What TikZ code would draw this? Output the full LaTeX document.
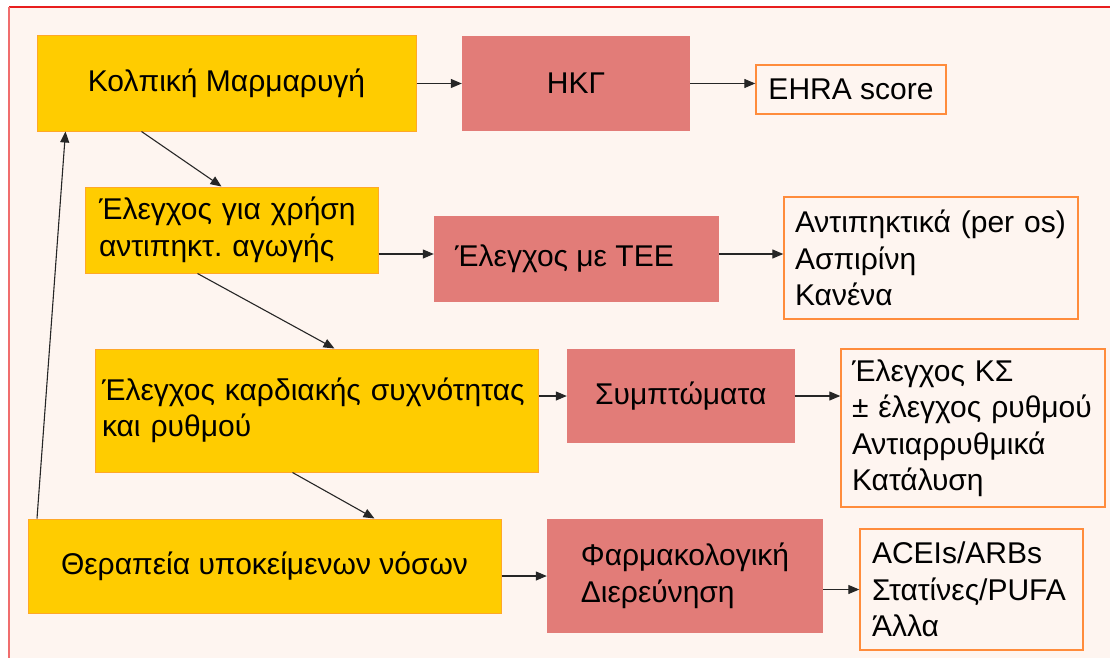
\documentclass[tikz,border=0pt]{standalone}
\usepackage{xcolor}
\usepackage{fontspec}
\setmainfont{Liberation Sans}
\usetikzlibrary{arrows.meta, positioning, calc}
\definecolor{afyellow}{RGB}{255, 204, 0}
\definecolor{afedge}{RGB}{255, 168, 40}
\definecolor{ekgred}{RGB}{226, 124, 120}
\definecolor{listedge}{RGB}{255, 140, 60}
\definecolor{pagecream}{RGB}{254, 245, 240}
\definecolor{framered}{RGB}{232, 30, 30}
\tikzset{
  boxtext/.style={font=\fontsize{30}{36.5}\selectfont\frenchspacing, text=black},
  yellowbox/.style={boxtext, rectangle, fill=afyellow, draw=afedge, line width=1pt},
  redbox/.style={boxtext, rectangle, fill=ekgred},
  listbox/.style={boxtext, rectangle, draw=listedge, line width=1.4pt, align=left},
  flow/.style={-{Triangle[length=11pt,width=9pt]}, line width=1.1pt, black!85}
}

\begin{document}
\begin{tikzpicture}[x=1pt, y=-1pt]
        \useasboundingbox (0,0) rectangle (1110,658);
        % page and frame
        \fill[pagecream] (9,7) rectangle (1110,658);
        \draw[framered, line width=1.6pt] (9,7) -- (1110,7);
        \draw[framered!65, line width=1.6pt] (9,7) -- (9,658);

        % Row 1
        \node[yellowbox, minimum width=379pt, minimum height=95pt] (af) at (226.5,83.5) {Κολπική Μαρμαρυγή};
        \node[redbox, minimum width=228pt, minimum height=95pt] (ekg) at (576,83.5) {ΗΚΓ};
        \node[listbox, minimum width=190pt, minimum height=49pt] (ehra) at (851,89.5) {EHRA score};

        % Row 2
        \node[yellowbox, minimum height=86pt, inner xsep=14pt, text width=265pt, align=left] (anticoag) at (231.5,230) {Έλεγχος για χρήση\\ αντιπηκτ. αγωγής};
        \node[redbox, minimum width=285pt, minimum height=86pt] (tee) at (576.5,259) {Έλεγχος με TEE\hspace*{24pt}};
        \node[listbox, minimum height=122pt, inner xsep=11pt, text width=272pt] (antilist) at (931,258) {\mbox{Αντιπηκτικά (per os)}\\ Ασπιρίνη\\ Κανένα};

        % Row 3
        \node[yellowbox, minimum height=123pt, inner xsep=7pt, text width=429.5pt, align=left] (rate) at (316.75,410.5) {\mbox{Έλεγχος καρδιακής συχνότητας}\\ και ρυθμού};
        \node[redbox, minimum width=227.5pt, minimum height=94pt] (symp) at (680.75,396) {Συμπτώματα};
        \node[listbox, minimum height=158pt, inner xsep=11pt, text width=242pt] (kslist) at (973,428) {Έλεγχος ΚΣ\\ \mbox{± έλεγχος ρυθμού}\\ Αντιαρρυθμικά\\ Κατάλυση};

        % Row 4
        \node[yellowbox, minimum width=473pt, minimum height=94pt] (therapy) at (264.5,566) {Θεραπεία υποκείμενων νόσων};
        \node[redbox, minimum width=276pt, minimum height=114pt, align=left] (pharm) at (685,576) {Φαρμακολογική\\ Διερεύνηση};
        \node[listbox, minimum height=121pt, inner xsep=12pt, text width=199pt] (aceis) at (971.5,589.5) {ACEIs/ARBs\\ Στατίνες/PUFA\\ Άλλα};

        % Horizontal arrows
        \draw[flow] (af.east |- ekg.west) -- (ekg.west);
        \draw[flow] (ekg.east) -- (ekg.east -| ehra.west);
        \draw[flow] ([yshift=5pt]tee.west -| anticoag.east) -- ([yshift=5pt]tee.west);
        \draw[flow] ([yshift=5pt]tee.east) -- ([yshift=5pt]tee.east -| antilist.west);
        \draw[flow] (symp.west -| rate.east) -- (symp.west);
        \draw[flow] (symp.east) -- (symp.east -| kslist.west);
        \draw[flow] (pharm.west -| therapy.east) -- (pharm.west);
        \draw[flow] (aceis.west -| pharm.east) -- (aceis.west);

        % Downward steps and loop back
        \draw[flow] ([xshift=105pt]af.south west) -- ([xshift=137pt]anticoag.north west);
        \draw[flow] ([xshift=113pt]anticoag.south west) -- ([xshift=240pt]rate.north west);
        \draw[flow] ([xshift=198pt]rate.south west) -- ([xshift=347pt]therapy.north west);
        \draw[flow] ([xshift=9.5pt]therapy.north west) -- ([xshift=29pt]af.south west);
    \end{tikzpicture}
\end{document}
